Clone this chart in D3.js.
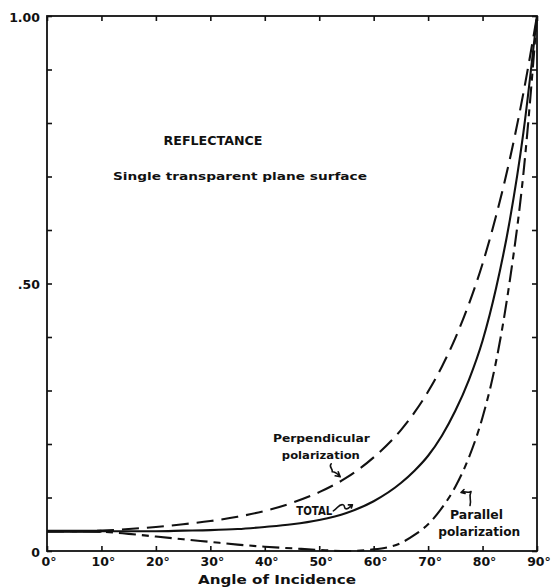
<!DOCTYPE html>
<html>
<head>
<meta charset="utf-8">
<script src="https://cdn.jsdelivr.net/npm/d3@7"></script>
<style>
  html, body { margin: 0; padding: 0; background: #fff; }
  svg { display: block; }
</style>
</head>
<body>
<svg id="chart" width="552" height="588"></svg>
<script>
// Reflectance of a single transparent plane surface vs. angle of incidence
const angles        = [0, 5, 10, 15, 20, 25, 30, 35, 40, 45, 50, 55, 60, 65, 67.5, 70, 72.5, 75, 77.5, 80, 82.5, 85, 87.5, 90];
const perpendicular = [0.037, 0.037, 0.038, 0.041, 0.045, 0.050, 0.056, 0.064, 0.075, 0.090, 0.110, 0.137, 0.175, 0.226, 0.259, 0.298, 0.344, 0.398, 0.462, 0.537, 0.627, 0.732, 0.856, 1.0];
const parallel      = [0.037, 0.037, 0.036, 0.032, 0.027, 0.022, 0.017, 0.012, 0.008, 0.005, 0.002, 0.000, 0.003, 0.015, 0.030, 0.050, 0.080, 0.120, 0.175, 0.250, 0.355, 0.505, 0.705, 1.0];
const total         = [0.037, 0.037, 0.037, 0.037, 0.037, 0.038, 0.039, 0.041, 0.045, 0.050, 0.058, 0.071, 0.093, 0.127, 0.150, 0.178, 0.215, 0.262, 0.320, 0.393, 0.492, 0.618, 0.782, 1.0];

const xTickValues = [0, 10, 20, 30, 40, 50, 60, 70, 80, 90];
const xTickLabels = ["0°", "10°", "20°", "30°", "40°", "50°", "60°", "70°", "80°", "90°"];
const yTickValues = [0, 0.1, 0.2, 0.3, 0.4, 0.5, 0.6, 0.7, 0.8, 0.9, 1.0];
const yLabelValues = [0, 0.5, 1.0];
const yLabels = ["0", ".50", "1.00"];

const svg = d3.select("#chart");
const x = d3.scaleLinear().domain([0, 90]).range([47, 537]);
const y = d3.scaleLinear().domain([0, 1]).range([551, 16]);
const font = "'DejaVu Sans', sans-serif";
const ink = "#111";

// inward ticks on all four sides
const tick = 5;
svg.append("g").attr("transform", `translate(0,${y(0)})`)
  .call(d3.axisBottom(x).tickValues(xTickValues).tickSize(-tick).tickSizeOuter(0).tickFormat(""));
svg.append("g").attr("transform", `translate(0,${y(1)})`)
  .call(d3.axisTop(x).tickValues(xTickValues).tickSize(-tick).tickSizeOuter(0).tickFormat(""));
svg.append("g").attr("transform", `translate(${x(0)},0)`)
  .call(d3.axisLeft(y).tickValues(yTickValues).tickSize(-tick).tickSizeOuter(0).tickFormat(""));
svg.append("g").attr("transform", `translate(${x(90)},0)`)
  .call(d3.axisRight(y).tickValues(yTickValues).tickSize(-tick).tickSizeOuter(0).tickFormat(""));
svg.selectAll(".domain").remove();
svg.selectAll(".tick line").attr("stroke", ink).attr("stroke-width", 1.6);

// frame
svg.append("rect")
  .attr("x", x(0)).attr("y", y(1))
  .attr("width", x(90) - x(0)).attr("height", y(0) - y(1))
  .attr("fill", "none").attr("stroke", ink).attr("stroke-width", 1.8);

// curves
const line = d3.line().x(d => x(d[0])).y(d => y(d[1])).curve(d3.curveMonotoneX);
const series = [
  { values: total, dash: null },
  { values: perpendicular, dash: "17,8" },
  { values: parallel, dash: "17,6,7,6" }
];
series.forEach(s => {
  svg.append("path")
    .datum(angles.map((a, i) => [a, s.values[i]]))
    .attr("d", line)
    .attr("fill", "none")
    .attr("stroke", ink)
    .attr("stroke-width", 2.1)
    .attr("stroke-dasharray", s.dash);
});

// the merged run of the three curves near normal incidence reads as one heavy stroke
svg.append("path")
  .datum(angles.filter(a => a <= 12).map(a => [a, total[angles.indexOf(a)]]))
  .attr("d", line)
  .attr("fill", "none")
  .attr("stroke", ink)
  .attr("stroke-width", 3);

// tick labels
svg.append("g").selectAll("text")
  .data(xTickValues)
  .join("text")
  .attr("x", d => x(d) + 2)
  .attr("y", 561)
  .attr("text-anchor", "middle")
  .attr("dominant-baseline", "central")
  .attr("font-family", font).attr("font-weight", "bold").attr("font-size", 12.5)
  .attr("fill", ink)
  .text((d, i) => xTickLabels[i]);

svg.append("g").selectAll("text")
  .data(yLabelValues)
  .join("text")
  .attr("x", 40)
  .attr("y", d => y(d) + 1)
  .attr("text-anchor", "end")
  .attr("dominant-baseline", "central")
  .attr("font-family", font).attr("font-weight", "bold").attr("font-size", 12.5)
  .attr("fill", ink)
  .text((d, i) => yLabels[i]);

// text helper
function label(txt, cx, cy, size, width, weight) {
  svg.append("text")
    .attr("x", cx).attr("y", cy)
    .attr("text-anchor", "middle")
    .attr("dominant-baseline", "central")
    .attr("font-family", font)
    .attr("font-weight", weight || "bold")
    .attr("font-size", size)
    .attr("fill", ink)
    .attr("textLength", width)
    .attr("lengthAdjust", "spacingAndGlyphs")
    .text(txt);
}

label("Angle of Incidence", 277, 580, 12, 158);
label("REFLECTANCE", 213, 141, 11.5, 99);
label("Single transparent plane surface", 240, 176, 11, 254, 600);

// curve annotations, placed in data coordinates
label("Perpendicular", x(50.4), y(0.21), 11, 97, 600);
label("polarization", x(50.3), y(0.179), 11, 78, 600);
label("TOTAL", x(49.1), y(0.074), 12, 36, 600);
label("Parallel", x(78.9), y(0.067), 12, 53);
label("polarization", x(79.4), y(0.036), 12, 82);

// hand-drawn pointer marks
const pointers = [
  // from "polarization" down to the perpendicular curve
  { a: 52.2, r: 0.163, d: "m0,0 c-3,3 2,5 1,8 c4,0 6,3 8,5 l-2,-5 m2,5 l-5,-1" },
  // from "TOTAL" to the total curve
  { a: 52.6, r: 0.075, d: "m0,0 c4,-2 6,-8 10,-6 c2,1 0,4 3,4 c3,0 4,-3 6,-4 m0,0 l-4,0 m4,0 l-1,3" },
  // from "Parallel" up to the parallel curve
  { a: 77.7, r: 0.085, d: "m0,0 c2,-6 -2,-8 1,-14 c-3,2 -7,-1 -10,1 m0,0 l3,-3 m-3,3 l4,1" }
];
pointers.forEach(p => {
  svg.append("path")
    .attr("transform", `translate(${x(p.a)},${y(p.r)})`)
    .attr("d", p.d)
    .attr("fill", "none")
    .attr("stroke", ink)
    .attr("stroke-width", 1.6)
    .attr("stroke-linecap", "round")
    .attr("stroke-linejoin", "round");
});
</script>
</body>
</html>
